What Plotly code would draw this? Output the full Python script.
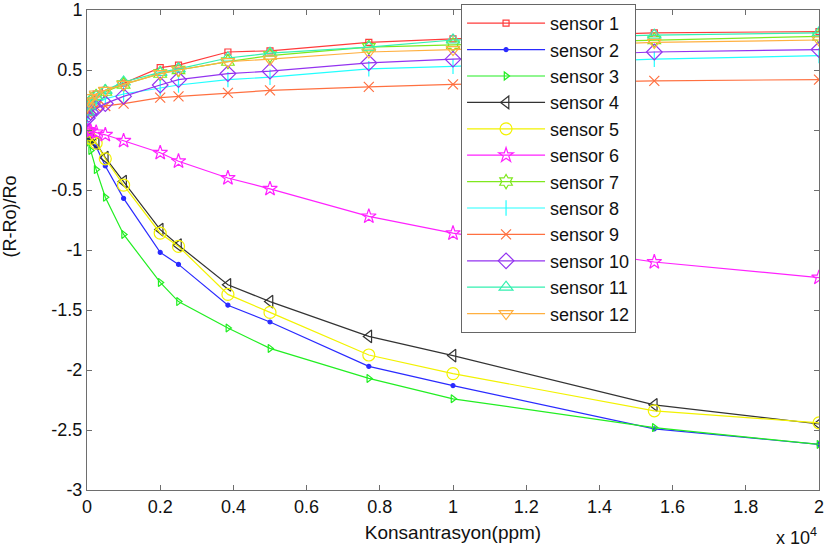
import plotly.graph_objects as go

# Gas concentration (ppm)
konsantrasyon = [10, 50, 100, 250, 500, 1000, 2000, 2500, 3850, 5000, 7700, 10000, 15500, 20000]

# Normalised response (R-Ro)/Ro of each sensor
sensor_1 = [0.15, 0.20, 0.24, 0.30, 0.33, 0.39, 0.52, 0.54, 0.65, 0.66, 0.73, 0.76, 0.81, 0.82]
sensor_2 = [-0.02, -0.05, -0.09, -0.14, -0.30, -0.57, -1.02, -1.12, -1.46, -1.60, -1.97, -2.13, -2.49, -2.62]
sensor_3 = [-0.03, -0.10, -0.17, -0.33, -0.56, -0.87, -1.27, -1.43, -1.65, -1.82, -2.07, -2.24, -2.48, -2.62]
sensor_4 = [-0.01, -0.04, -0.07, -0.11, -0.23, -0.43, -0.83, -0.96, -1.29, -1.43, -1.72, -1.88, -2.29, -2.45]
sensor_5 = [-0.01, -0.04, -0.07, -0.11, -0.24, -0.46, -0.86, -0.97, -1.37, -1.52, -1.875, -2.03, -2.34, -2.44]
sensor_6 = [0.0, -0.01, -0.01, -0.02, -0.04, -0.09, -0.19, -0.26, -0.40, -0.49, -0.72, -0.86, -1.10, -1.23]
sensor_7 = [0.15, 0.20, 0.24, 0.28, 0.32, 0.38, 0.47, 0.50, 0.57, 0.62, 0.69, 0.71, 0.75, 0.78]
sensor_8 = [0.12, 0.15, 0.18, 0.22, 0.26, 0.30, 0.35, 0.375, 0.42, 0.44, 0.51, 0.53, 0.59, 0.62]
sensor_9 = [0.14, 0.16, 0.18, 0.19, 0.20, 0.22, 0.27, 0.28, 0.31, 0.33, 0.36, 0.38, 0.41, 0.42]
sensor_10 = [0.10, 0.13, 0.15, 0.18, 0.22, 0.28, 0.375, 0.42, 0.47, 0.49, 0.56, 0.59, 0.65, 0.67]
sensor_11 = [0.15, 0.20, 0.25, 0.28, 0.33, 0.40, 0.48, 0.51, 0.60, 0.64, 0.69, 0.75, 0.79, 0.81]
sensor_12 = [0.20, 0.24, 0.27, 0.30, 0.33, 0.38, 0.47, 0.50, 0.57, 0.59, 0.65, 0.67, 0.73, 0.75]

sensor_names = ["sensor %d" % i for i in range(1, 13)]
series = [sensor_1, sensor_2, sensor_3, sensor_4, sensor_5, sensor_6,
          sensor_7, sensor_8, sensor_9, sensor_10, sensor_11, sensor_12]

# Axis ticks (x shown in units of 10^4 ppm)
x_tick_values = [0, 2000, 4000, 6000, 8000, 10000, 12000, 14000, 16000, 18000, 20000]
x_tick_labels = ["0", "0.2", "0.4", "0.6", "0.8", "1", "1.2", "1.4", "1.6", "1.8", "2"]
y_tick_values = [1, 0.5, 0, -0.5, -1, -1.5, -2, -2.5, -3]
y_tick_labels = ["1", "0.5", "0", "-0.5", "-1", "-1.5", "-2", "-2.5", "-3"]

colors = ["#ff3b3b", "#2a2aff", "#22ee22", "#333333", "#f2f200", "#ff22ff",
          "#7fe81e", "#22ffff", "#ff7040", "#9333f0", "#33f0b0", "#ffb040"]
symbols = ["square-open", "circle", "triangle-right-open", "triangle-left-open",
           "circle-open", "star-open", "hexagram-open", "line-ns-open",
           "x-thin-open", "diamond-open", "triangle-up-open", "triangle-down-open"]
sizes = [6, 4, 7, 11, 12, 11, 11, 11, 10, 12, 12, 12]

fig = go.Figure()
for name, ys, c, s, sz in zip(sensor_names, series, colors, symbols, sizes):
    fig.add_trace(go.Scatter(
        x=konsantrasyon, y=ys, name=name, mode="lines+markers",
        line=dict(color=c, width=1.2),
        marker=dict(symbol=s, size=sz, color=c, line=dict(color=c, width=1.2)),
    ))

font_family = "Liberation Sans, Arial, sans-serif"
axis_common = dict(
    showgrid=False, zeroline=False, showline=True, linecolor="#6e6e6e",
    linewidth=1, mirror="ticks", ticks="inside", ticklen=5,
    tickcolor="#6e6e6e", tickfont=dict(family=font_family, size=18, color="#111"),
)

fig.update_layout(
    width=826, height=552,
    margin=dict(l=87, r=7, t=10, b=62, autoexpand=False),
    paper_bgcolor="white", plot_bgcolor="white",
    font=dict(family=font_family, color="#111"),
    xaxis=dict(range=[0, 20000], tickvals=x_tick_values, ticktext=x_tick_labels,
               title=dict(text="Konsantrasyon(ppm)", font=dict(size=19), standoff=10),
               **axis_common),
    yaxis=dict(range=[-3, 1], tickvals=y_tick_values, ticktext=y_tick_labels,
               **axis_common),
    legend=dict(x=0.511, y=1.0125, xanchor="left", yanchor="top",
                bgcolor="white", bordercolor="#666", borderwidth=1,
                font=dict(family=font_family, size=18, color="#111"),
                itemwidth=78, tracegroupgap=0, maxheight=1.0),
    showlegend=True,
    annotations=[
        dict(text="(R-Ro)/Ro", textangle=-90, xref="paper", yref="paper",
             x=-0.105, y=0.57, xanchor="center", yanchor="middle", showarrow=False,
             font=dict(family=font_family, size=18, color="#111")),
        dict(text="x 10<sup>4</sup>", xref="paper", yref="paper",
             x=1.0, y=-0.097, xanchor="right", yanchor="middle", showarrow=False,
             font=dict(family=font_family, size=18, color="#111")),
    ],
)

fig.write_html("out.html")
